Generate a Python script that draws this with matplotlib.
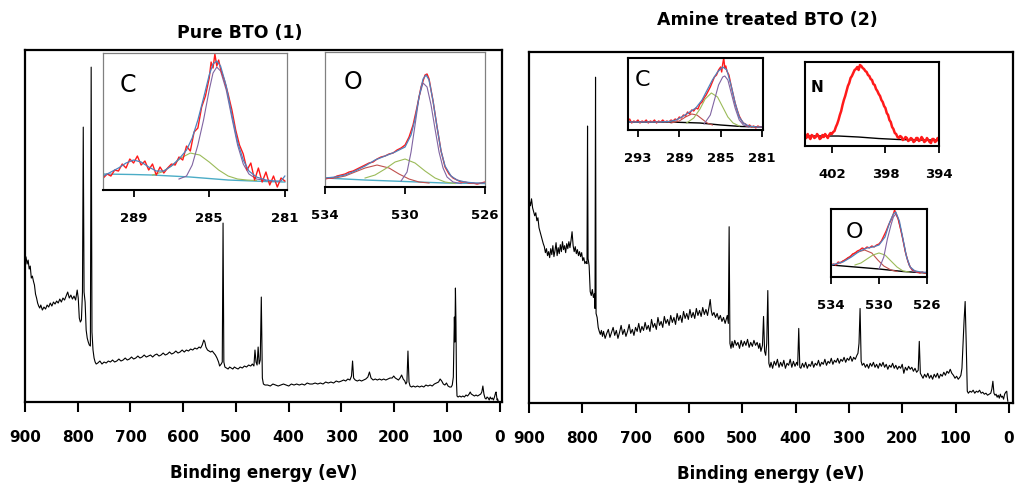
import matplotlib
matplotlib.use("Agg")
import matplotlib.pyplot as plt

plt.rcParams['font.family'] = ['DejaVu Sans']

# ---------------- survey spectra: (binding energy eV, intensity a.u.) ----------------
pure_survey = [
    (898, 145), (896, 138), (894, 142), (892, 133), (890, 136), (888, 124), (886, 126), (884, 121),
    (882, 117), (880, 108), (878, 104), (876, 99), (874, 96), (872, 94), (870, 97), (867, 92),
    (864, 95), (861, 93), (858, 97), (855, 95), (852, 99), (849, 96), (846, 100), (843, 98),
    (840, 101), (837, 99), (834, 103), (831, 100), (828, 104), (825, 102), (822, 106), (819, 110),
    (816, 104), (813, 107), (810, 103), (807, 106), (804, 102), (801, 112), (799, 104), (797, 84),
    (795, 80), (793, 82), (791, 110), (789.5, 275), (788, 110), (786, 100), (784, 72), (782, 64),
    (780, 60), (778, 57), (776, 56), (774.5, 335), (773, 70), (771, 52), (769, 44), (767, 40),
    (765, 38), (762, 39), (758, 41), (754, 38), (750, 40), (746, 39), (742, 41), (738, 40),
    (734, 42), (730, 40), (726, 41), (722, 43), (718, 41), (714, 42), (710, 44), (706, 42),
    (702, 43), (698, 45), (694, 43), (690, 44), (686, 46), (682, 44), (678, 45), (674, 47),
    (670, 45), (666, 46), (662, 47), (658, 45), (654, 47), (650, 48), (646, 46), (642, 47),
    (638, 49), (634, 47), (630, 48), (626, 50), (622, 48), (618, 49), (614, 51), (610, 49),
    (606, 50), (602, 52), (598, 50), (594, 52), (590, 51), (586, 53), (582, 52), (578, 54),
    (574, 53), (570, 55), (567, 54), (564, 57), (561, 62), (559, 60), (557, 55), (554, 52),
    (551, 51), (548, 50), (545, 51), (542, 49), (539, 47), (536, 44), (533, 40), (531, 36),
    (528, 38), (526, 40), (524.5, 179), (523, 40), (521, 35), (518, 34), (515, 33), (512, 35),
    (509, 34), (506, 33), (503, 35), (500, 34), (496, 33), (492, 35), (488, 34), (484, 36),
    (480, 35), (476, 37), (472, 36), (469, 38), (466, 36), (464, 52), (462, 40), (460, 37),
    (458, 55), (456, 38), (454, 42), (452, 105), (450, 24), (448, 18), (445, 17), (440, 17),
    (435, 16), (430, 18), (425, 17), (420, 16), (415, 17), (410, 18), (405, 17), (400, 16),
    (395, 18), (390, 17), (385, 18), (380, 17), (375, 18), (370, 17), (365, 19), (360, 18),
    (355, 18), (350, 19), (345, 18), (340, 19), (335, 18), (330, 20), (325, 19), (320, 20),
    (315, 19), (310, 21), (305, 20), (300, 21), (296, 22), (292, 21), (288, 23), (284, 22),
    (281, 26), (279, 41), (277, 24), (274, 22), (270, 21), (266, 22), (262, 21), (258, 22),
    (254, 23), (250, 25), (247, 30), (244, 24), (240, 22), (236, 23), (232, 22), (228, 23),
    (224, 22), (220, 23), (216, 22), (212, 23), (208, 24), (204, 24), (201, 26), (198, 24),
    (195, 23), (192, 22), (189, 24), (186, 27), (183, 23), (180, 21), (178, 18), (176, 20),
    (174, 51), (172, 20), (170, 16), (167, 15), (164, 16), (160, 15), (156, 16), (152, 15),
    (148, 16), (144, 15), (140, 17), (136, 16), (132, 17), (128, 16), (124, 18), (120, 19),
    (116, 20), (113, 23), (110, 21), (107, 18), (104, 17), (101, 19), (98, 16), (95, 15),
    (92, 15), (90, 17), (88, 25), (86, 85), (85, 60), (84, 114), (83, 80), (82, 20),
    (81, 6), (79, 5), (76, 6), (73, 5), (70, 6), (67, 5), (64, 7), (61, 6),
    (58, 8), (56, 10), (54, 8), (51, 7), (48, 6), (45, 7), (42, 6), (39, 7),
    (36, 8), (34, 10), (32, 16), (30, 8), (28, 4), (26, 3), (24, 5), (22, 4),
    (20, 2), (18, 5), (16, 3), (14, 4), (12, 2), (10, 5), (8, 9), (7, 10),
    (6, 6), (5, 2), (4, 3), (3, 1),
]

amine_survey = [
    (899, 203), (897, 198), (895, 205), (893, 196), (891, 192), (889, 188), (887, 191), (885, 183),
    (883, 186), (881, 176), (879, 172), (877, 168), (875, 164), (873, 160), (871, 157), (869, 151),
    (867, 155), (865, 148), (863, 152), (861, 146), (859, 155), (857, 149), (855, 158), (853, 147),
    (851, 153), (849, 161), (847, 148), (845, 156), (843, 150), (841, 159), (839, 152), (837, 162),
    (835, 154), (833, 158), (831, 151), (829, 160), (827, 155), (825, 162), (823, 156), (821, 163),
    (819, 172), (817, 158), (815, 152), (813, 157), (811, 150), (809, 154), (807, 148), (805, 152),
    (803, 147), (801, 151), (799, 143), (797, 146), (795, 140), (793, 142), (791, 140), (790, 278),
    (789, 145), (787, 138), (785, 112), (783, 108), (781, 114), (779, 106), (777, 110), (776, 95),
    (775, 327), (774, 90), (772, 86), (770, 76), (768, 72), (766, 69), (764, 73), (762, 67),
    (760, 72), (757, 65), (754, 70), (751, 74), (748, 66), (745, 71), (742, 76), (739, 68),
    (736, 73), (733, 65), (730, 71), (727, 78), (724, 69), (721, 74), (718, 67), (715, 72),
    (712, 79), (709, 70), (706, 74), (703, 68), (700, 76), (697, 72), (694, 80), (691, 71),
    (688, 77), (685, 73), (682, 81), (679, 74), (676, 78), (673, 72), (670, 84), (667, 76),
    (664, 80), (661, 74), (658, 86), (655, 78), (652, 82), (649, 76), (646, 87), (643, 80),
    (640, 84), (637, 78), (634, 88), (631, 81), (628, 86), (625, 79), (622, 90), (619, 83),
    (616, 88), (613, 81), (610, 92), (607, 85), (604, 90), (601, 84), (598, 94), (595, 86),
    (592, 91), (589, 85), (586, 95), (583, 88), (580, 93), (577, 87), (574, 96), (571, 89),
    (568, 94), (565, 88), (562, 97), (560, 104), (558, 93), (556, 88), (553, 91), (550, 86),
    (547, 90), (544, 84), (541, 88), (538, 82), (535, 86), (532, 80), (530, 84), (528, 88),
    (526, 80), (524.5, 177), (523, 60), (521, 55), (519, 62), (517, 56), (514, 63), (511, 58),
    (508, 61), (505, 55), (502, 63), (499, 57), (496, 62), (493, 58), (490, 64), (487, 56),
    (484, 61), (481, 57), (478, 63), (475, 58), (472, 61), (469, 55), (467, 60), (465, 52),
    (462, 58), (460, 87), (458, 52), (456, 48), (454, 60), (452, 113), (450, 40), (448, 36),
    (446, 41), (443, 35), (440, 42), (437, 38), (434, 44), (431, 36), (428, 41), (425, 37),
    (422, 43), (419, 35), (416, 40), (413, 38), (410, 44), (407, 36), (404, 42), (401, 37),
    (398, 41), (396, 38), (394, 75), (392, 36), (390, 35), (387, 40), (384, 36), (381, 41),
    (378, 35), (375, 39), (372, 37), (369, 42), (366, 36), (363, 40), (360, 38), (357, 43),
    (354, 37), (351, 41), (348, 39), (345, 44), (342, 38), (339, 42), (336, 40), (333, 45),
    (330, 39), (327, 43), (324, 41), (321, 45), (318, 40), (315, 44), (312, 42), (309, 46),
    (306, 41), (303, 45), (300, 43), (297, 47), (294, 42), (291, 46), (288, 44), (285, 48),
    (283, 50), (281, 60), (279, 95), (277, 42), (275, 38), (272, 40), (269, 36), (266, 39),
    (263, 35), (260, 40), (257, 37), (254, 41), (251, 36), (248, 39), (245, 35), (242, 40),
    (239, 37), (236, 41), (233, 36), (230, 39), (227, 34), (224, 38), (221, 36), (218, 40),
    (215, 35), (212, 38), (209, 34), (206, 37), (203, 35), (200, 39), (197, 30), (194, 36),
    (191, 33), (188, 37), (185, 34), (182, 36), (179, 32), (176, 35), (173, 31), (170, 33),
    (168, 62), (166, 30), (164, 28), (161, 25), (158, 29), (155, 26), (152, 30), (149, 25),
    (146, 28), (143, 24), (140, 29), (137, 26), (134, 30), (131, 25), (128, 29), (125, 27),
    (122, 31), (119, 28), (116, 32), (113, 30), (110, 34), (107, 30), (104, 28), (101, 25),
    (98, 27), (95, 24), (92, 26), (90, 28), (88, 35), (86, 60), (84, 83), (82, 102),
    (80, 60), (78, 12), (76, 10), (73, 12), (70, 11), (67, 13), (64, 10), (61, 12),
    (58, 11), (55, 13), (52, 10), (49, 11), (46, 9), (43, 10), (40, 8), (37, 9),
    (34, 10), (32, 14), (30, 22), (28, 10), (26, 8), (24, 9), (22, 6), (20, 8),
    (18, 5), (16, 9), (14, 6), (12, 7), (10, 4), (8, 9), (6, 11), (4, 12), (3, 6), (2, 2),
]

survey_ticks = [900, 800, 700, 600, 500, 400, 300, 200, 100, 0]

# ---------------- Pure BTO, C 1s inset ----------------
pc_data = [
    (290.6, 12), (290.4, 16), (290.2, 14), (290.0, 20), (289.8, 19), (289.6, 26), (289.4, 22),
    (289.2, 31), (289.0, 27), (288.8, 34), (288.6, 25), (288.4, 29), (288.2, 20), (288.0, 26),
    (287.8, 15), (287.6, 23), (287.4, 17), (287.2, 22), (287.0, 26), (286.8, 25), (286.6, 33),
    (286.4, 30), (286.2, 44), (286.0, 39), (285.8, 58), (285.6, 62), (285.4, 83), (285.2, 94),
    (285.0, 112), (284.9, 128), (284.8, 122), (284.7, 136), (284.6, 124), (284.5, 130),
    (284.4, 121), (284.2, 110), (284.0, 96), (283.8, 80), (283.6, 60), (283.4, 45), (283.2, 36),
    (283.0, 20), (282.8, 27), (282.6, 10), (282.4, 22), (282.2, 8), (282.0, 18), (281.8, 5),
    (281.6, 14), (281.4, 3), (281.2, 12), (281.0, 9),
]
pc_env = [
    (290.6, 14), (290.2, 18), (289.8, 22), (289.4, 27), (289.0, 30), (288.6, 28), (288.2, 23),
    (287.8, 19), (287.4, 19), (287.0, 24), (286.6, 31), (286.2, 40), (285.9, 52), (285.6, 70),
    (285.3, 92), (285.0, 115), (284.8, 126), (284.6, 129), (284.4, 124), (284.1, 104),
    (283.8, 75), (283.5, 48), (283.2, 30), (282.9, 19), (282.5, 13), (282.0, 10), (281.5, 9),
    (281.2, 9), (281.0, 14),
]
pc_main = [
    (286.6, 11), (286.2, 14), (285.9, 25), (285.6, 45), (285.3, 70), (285.0, 100), (284.8, 117),
    (284.6, 123), (284.4, 119), (284.1, 100), (283.8, 72), (283.5, 45), (283.2, 26), (282.9, 16),
    (282.5, 11), (282.0, 9.5),
]
pc_second = [
    (288.0, 15), (287.5, 18), (287.0, 24), (286.5, 32), (286.0, 37), (285.5, 35), (285.0, 28),
    (284.5, 20), (284.0, 14), (283.5, 11), (283.0, 10), (282.5, 9.5),
]
pc_bg = [(290.6, 16), (289.0, 15.5), (288.0, 15), (286.0, 13), (284.0, 10), (282.0, 8.5), (281.0, 8)]

# ---------------- Pure BTO, O 1s inset ----------------
po_data = [
    (534.0, 8), (533.8, 9), (533.6, 9), (533.4, 11), (533.2, 12), (533.0, 13), (532.8, 15),
    (532.6, 16), (532.4, 18), (532.2, 20), (532.0, 22), (531.8, 24), (531.6, 25), (531.4, 28),
    (531.2, 30), (531.0, 31), (530.8, 33), (530.6, 34), (530.4, 37), (530.2, 39), (530.0, 42),
    (529.8, 50), (529.6, 62), (529.4, 80), (529.2, 100), (529.0, 112), (528.9, 113), (528.8, 108),
    (528.6, 86), (528.4, 60), (528.2, 36), (528.0, 20), (527.8, 13), (527.6, 9), (527.4, 7),
    (527.2, 5), (527.0, 5), (526.8, 4), (526.6, 4), (526.4, 3), (526.2, 4), (526.0, 5),
]
po_env = [
    (534, 9), (533.5, 10), (533, 12), (532.5, 16), (532, 21), (531.5, 27), (531, 31), (530.5, 35),
    (530, 40), (529.7, 52), (529.5, 68), (529.3, 90), (529.1, 108), (528.95, 112), (528.8, 107),
    (528.6, 86), (528.4, 60), (528.2, 36), (528, 21), (527.7, 11), (527.4, 7), (527, 5),
    (526.5, 4), (526, 4),
]
po_main = [
    (530.2, 6), (529.9, 15), (529.7, 35), (529.5, 62), (529.3, 90), (529.1, 104), (528.9, 100),
    (528.7, 82), (528.5, 58), (528.3, 35), (528.1, 19), (527.9, 10), (527.6, 5), (527.2, 3.5),
]
po_second = [
    (532.0, 9), (531.5, 12), (531.0, 18), (530.5, 25), (530.0, 28), (529.5, 24), (529.0, 16),
    (528.5, 9), (528.0, 5), (527.5, 3.5),
]
po_third = [
    (533.5, 9), (533.0, 11), (532.5, 15), (532.0, 19), (531.4, 22), (530.8, 19), (530.3, 13),
    (529.8, 8), (529.3, 5), (528.8, 4),
]
po_bg = [(534, 9), (532, 7), (530, 5.5), (528, 4), (526, 3.5)]

# ---------------- Amine treated BTO, C 1s inset ----------------
ac_data = [
    (294.0, 8), (293.8, 11), (293.6, 7), (293.4, 9), (293.2, 8), (293.0, 10), (292.8, 7),
    (292.6, 9), (292.4, 8), (292.2, 10), (292.0, 7), (291.8, 9), (291.6, 8), (291.4, 10),
    (291.2, 7), (291.0, 9), (290.8, 8), (290.6, 10), (290.4, 8), (290.2, 9), (290.0, 8),
    (289.8, 10), (289.6, 9), (289.4, 11), (289.2, 10), (289.0, 13), (288.8, 12), (288.6, 15),
    (288.4, 14), (288.2, 18), (288.0, 16), (287.8, 20), (287.6, 19), (287.4, 22), (287.2, 21),
    (287.0, 26), (286.8, 28), (286.6, 32), (286.4, 35), (286.2, 39), (286.0, 43), (285.8, 48),
    (285.6, 53), (285.4, 55), (285.2, 60), (285.0, 63), (284.9, 58), (284.8, 66), (284.7, 72),
    (284.6, 62), (284.5, 64), (284.4, 59), (284.2, 55), (284.0, 45), (283.8, 36), (283.6, 27),
    (283.4, 20), (283.2, 14), (283.0, 10), (282.8, 7), (282.6, 6), (282.4, 4), (282.2, 5),
    (282.0, 3), (281.8, 4), (281.6, 2), (281.4, 4), (281.2, 3), (281.0, 3),
]
ac_env = [
    (294, 8), (291, 8), (290, 8.5), (289.3, 10), (288.6, 14), (288.0, 18), (287.4, 22),
    (286.8, 30), (286.3, 40), (285.8, 50), (285.3, 58), (284.8, 63), (284.4, 60), (284.0, 45),
    (283.6, 27), (283.2, 13), (282.8, 7), (282.3, 4), (281.5, 3), (281.0, 3),
]
ac_main = [
    (286.6, 6), (286.0, 15), (285.6, 30), (285.2, 45), (284.8, 53), (284.6, 54), (284.3, 50),
    (284.0, 38), (283.6, 22), (283.2, 10), (282.8, 5), (282.3, 3),
]
ac_second = [
    (288.3, 7), (287.6, 12), (287.0, 21), (286.5, 31), (285.9, 37), (285.3, 33), (284.8, 23),
    (284.3, 13), (283.8, 7), (283.2, 4),
]
ac_third = [
    (289.8, 7), (289.0, 9), (288.4, 13), (287.8, 16), (287.3, 15), (286.8, 11), (286.3, 7),
    (285.8, 5),
]
ac_bg = [(294, 8), (290, 8), (287, 7), (285, 5), (283, 3.5), (281, 3)]

# ---------------- Amine treated BTO, N 1s inset ----------------
an_data = [
    (404.0, 10), (403.9, 8), (403.8, 12), (403.7, 9), (403.6, 7), (403.5, 11), (403.4, 10),
    (403.3, 8), (403.2, 9), (403.1, 12), (403.0, 10), (402.9, 7), (402.8, 8), (402.7, 11),
    (402.6, 9), (402.5, 12), (402.4, 10), (402.3, 8), (402.2, 11), (402.1, 13), (402.0, 12),
    (401.9, 14), (401.8, 15), (401.7, 19), (401.6, 22), (401.5, 26), (401.4, 31), (401.3, 35),
    (401.2, 41), (401.1, 46), (401.0, 50), (400.9, 55), (400.8, 60), (400.7, 63), (400.6, 68),
    (400.5, 70), (400.4, 73), (400.3, 76), (400.2, 77), (400.1, 79), (400.0, 76), (399.9, 81),
    (399.8, 80), (399.7, 78), (399.6, 77), (399.5, 75), (399.4, 74), (399.3, 71), (399.2, 70),
    (399.1, 67), (399.0, 66), (398.9, 62), (398.8, 61), (398.7, 57), (398.6, 55), (398.5, 52),
    (398.4, 50), (398.3, 46), (398.2, 44), (398.1, 40), (398.0, 38), (397.9, 33), (397.8, 31),
    (397.7, 26), (397.6, 24), (397.5, 19), (397.4, 17), (397.3, 13), (397.2, 12), (397.1, 9),
    (397.0, 8), (396.9, 10), (396.8, 9), (396.7, 6), (396.6, 7), (396.5, 9), (396.4, 8),
    (396.3, 5), (396.2, 6), (396.1, 8), (396.0, 7), (395.9, 4), (395.8, 5), (395.7, 8),
    (395.6, 8), (395.5, 5), (395.4, 6), (395.3, 9), (395.2, 7), (395.1, 4), (395.0, 5),
    (394.9, 8), (394.8, 6), (394.7, 4), (394.6, 3), (394.5, 7), (394.4, 7), (394.3, 4),
    (394.2, 5), (394.1, 8), (394.0, 6),
]
an_bg = [(404, 10), (401.5, 10), (400, 9), (398.5, 7.5), (397, 6.5), (395.5, 6), (394, 6)]

# ---------------- Amine treated BTO, O 1s inset ----------------
ao_data = [
    (534.0, 12), (533.8, 13), (533.6, 12), (533.4, 15), (533.2, 14), (533.0, 16), (532.8, 17),
    (532.6, 19), (532.4, 20), (532.2, 23), (532.0, 24), (531.8, 26), (531.6, 27), (531.4, 29),
    (531.2, 28), (531.0, 30), (530.8, 29), (530.6, 31), (530.4, 30), (530.2, 32), (530.0, 33),
    (529.8, 36), (529.6, 41), (529.4, 46), (529.2, 52), (529.0, 57), (528.8, 63), (528.7, 67),
    (528.6, 64), (528.4, 58), (528.2, 48), (528.0, 37), (527.8, 25), (527.6, 16), (527.4, 10),
    (527.2, 7), (527.0, 6), (526.8, 5), (526.6, 4), (526.4, 5), (526.2, 4), (526.0, 5),
]
ao_env = [
    (534, 12), (533, 15), (532.3, 20), (531.6, 26), (531.0, 29), (530.5, 30), (530.0, 32),
    (529.5, 40), (529.1, 55), (528.8, 63), (528.6, 65), (528.3, 56), (528.0, 38), (527.7, 20),
    (527.4, 10), (527.0, 6), (526.5, 5), (526.0, 4.5),
]
ao_main = [
    (530.0, 8), (529.6, 20), (529.3, 38), (529.0, 52), (528.8, 60), (528.6, 63), (528.4, 58),
    (528.1, 43), (527.8, 25), (527.5, 12), (527.2, 6), (526.8, 4.5),
]
ao_second = [
    (532.0, 12), (531.5, 14), (531.0, 18), (530.5, 22), (530.0, 24), (529.5, 22), (529.0, 16),
    (528.5, 10), (528.0, 6), (527.5, 5),
]
ao_third = [
    (533.5, 13), (533.0, 16), (532.5, 20), (532.0, 24), (531.2, 27), (530.6, 24), (530.1, 17),
    (529.6, 11), (529.0, 7), (528.5, 5.5),
]
ao_bg = [(534, 12), (532, 10), (530, 8), (528, 5.5), (526, 4)]

RED = '#ff1a1a'
ENV = '#4f81bd'
PURPLE = '#8064a2'
GREEN = '#9bbb59'
BROWN = '#c0504d'
TEAL = '#4bacc6'


def xy(pairs):
    return [p[0] for p in pairs], [p[1] for p in pairs]


fig = plt.figure(figsize=(10.19, 4.84), dpi=100)


def survey(rect, pairs, xlim, title, title_xy):
    ax = fig.add_axes(rect)
    x, y = xy(pairs)
    ax.plot(x, y, color='black', lw=0.8)
    ax.set_xlim(*xlim)
    ax.set_ylim(0, 352)
    ax.set_yticks([])
    ax.set_xticks(survey_ticks)
    ax.set_xticklabels([str(t) for t in survey_ticks], fontweight='bold', fontsize=11)
    ax.tick_params(axis='x', direction='out', length=7, width=1.5, pad=13)
    for s in ax.spines.values():
        s.set_linewidth(1.6)
    ax.set_xlabel('Binding energy (eV)', fontweight='bold', fontsize=12, labelpad=14)
    fig.text(title_xy[0], title_xy[1], title, fontweight='bold', fontsize=12.5,
             ha='center', va='center')
    return ax


survey([0.0245, 0.1694, 0.468, 0.727], pure_survey, (900, -4), 'Pure BTO (1)', (240 / 1019, 1 - 33 / 484))
survey([0.519, 0.167, 0.475, 0.725], amine_survey, (900, -7.5), 'Amine treated BTO (2)', (767 / 1019, 1 - 20 / 484))


def inset(rect, xlim, ylim, ticks, letter, letter_pos, letter_kw, gray):
    ax = fig.add_axes(rect)
    ax.set_zorder(5)
    ax.set_facecolor('white')
    ax.set_xlim(*xlim)
    ax.set_ylim(*ylim)
    ax.set_yticks([])
    ax.set_xticks(ticks)
    ax.set_xticklabels([str(t) for t in ticks], fontweight='bold', fontsize=9.5)
    ax.tick_params(axis='x', direction='out', length=5, width=1.3, pad=11)
    for name, s in ax.spines.items():
        if gray and name != 'bottom':
            s.set_color('#808080')
            s.set_linewidth(0.9)
        else:
            s.set_color('black')
            s.set_linewidth(1.5)
    ax.text(letter_pos[0], letter_pos[1], letter, transform=ax.transAxes,
            ha='center', va='center', **letter_kw)
    return ax


def curves(ax, data, env, comps, bg, bg_color, data_lw=1.0):
    ax.plot(*xy(bg), color=bg_color, lw=1.0)
    for pairs, c in comps:
        ax.plot(*xy(pairs), color=c, lw=0.8)
    ax.plot(*xy(data), color=RED, lw=data_lw)
    if env is not None:
        ax.plot(*xy(env), color=ENV, lw=0.9)


big = dict(fontsize=17)
ax = inset([0.1014, 0.6074, 0.18, 0.283], (290.6, 280.9), (0, 137), [289, 285, 281],
           'C', (0.135, 0.766), big, True)
curves(ax, pc_data, pc_env, [(pc_second, GREEN), (pc_main, PURPLE)], pc_bg, TEAL)

ax = inset([0.319, 0.6136, 0.157, 0.279], (534, 526), (0, 135), [534, 530, 526],
           'O', (0.175, 0.78), big, True)
curves(ax, po_data, po_env, [(po_third, BROWN), (po_second, GREEN), (po_main, PURPLE)], po_bg, TEAL)

mid = dict(fontsize=16)
ax = inset([0.6163, 0.7314, 0.1325, 0.1488], (293.96, 280.9), (0, 72), [293, 289, 285, 281],
           'C', (0.104, 0.69), mid, False)
curves(ax, ac_data, ac_env, [(ac_third, BROWN), (ac_second, GREEN), (ac_main, PURPLE)], ac_bg, 'black')

ax = inset([0.79, 0.6983, 0.1315, 0.1736], (404, 394), (0, 84), [402, 398, 394],
           'N', (0.09, 0.70), dict(fontsize=11, fontweight='bold'), False)
curves(ax, an_data, None, [], an_bg, 'black', data_lw=1.8)

ax = inset([0.8155, 0.4277, 0.0942, 0.1405], (534, 526), (0, 68), [534, 530, 526],
           'O', (0.25, 0.66), mid, False)
curves(ax, ao_data, ao_env, [(ao_third, BROWN), (ao_second, GREEN), (ao_main, PURPLE)], ao_bg, 'black')

fig.savefig('out.png', dpi=100)
